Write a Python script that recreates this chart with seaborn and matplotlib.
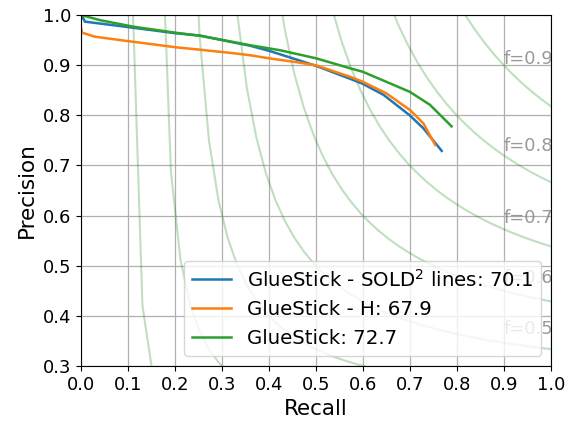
import numpy as np
import pandas as pd
import matplotlib
matplotlib.use("Agg")
import matplotlib.pyplot as plt
import seaborn as sns

# precision / recall points
recall_sold2 = [0.0, 0.0, 0.002, 0.009, 0.094, 0.201, 0.254, 0.36, 0.40, 0.467, 0.50,
                0.573, 0.60, 0.644, 0.70, 0.729, 0.768]
prec_sold2 = [0.945, 0.99, 1.0, 0.987, 0.977, 0.964, 0.959, 0.939, 0.929, 0.909, 0.899,
              0.873, 0.863, 0.841, 0.80, 0.774, 0.729]

recall_h = [0.0, 0.0, 0.003, 0.03, 0.094, 0.201, 0.254, 0.325, 0.36, 0.40, 0.467, 0.50,
            0.573, 0.60, 0.65, 0.70, 0.729, 0.754]
prec_h = [0.94, 0.975, 0.965, 0.957, 0.949, 0.936, 0.931, 0.924, 0.920, 0.914, 0.905, 0.900,
          0.877, 0.867, 0.844, 0.811, 0.784, 0.741]

recall_gs = [0.0, 0.002, 0.041, 0.112, 0.201, 0.254, 0.36, 0.424, 0.50, 0.573, 0.60,
             0.70, 0.743, 0.789]
prec_gs = [0.995, 1.0, 0.99, 0.977, 0.965, 0.959, 0.940, 0.930, 0.914, 0.894, 0.887,
           0.847, 0.821, 0.778]

labels = ["GlueStick - SOLD$^2$ lines: 70.1", "GlueStick - H: 67.9", "GlueStick: 72.7"]
colors = ["tab:blue", "tab:orange", "tab:green"]
f_scores = [0.2, 0.3, 0.4, 0.5, 0.6, 0.7, 0.8, 0.9]

fig, ax = plt.subplots(figsize=(5.81, 4.21), dpi=100)
fig.subplots_adjust(left=0.139, right=0.948, top=0.964, bottom=0.131)

# iso f-score curves
for f in f_scores:
    x = np.linspace(0.01, 1)
    y = f * x / (2 * x - f)
    ax.plot(x[y >= 0], y[y >= 0], color="green", alpha=0.25, lw=1.5)
    ax.annotate("f={0:0.1f}".format(f), xy=(0.9, y[45] + 0.02), fontsize=13,
                color="gray", alpha=0.8, clip_on=True)

curves = [(recall_sold2, prec_sold2), (recall_h, prec_h), (recall_gs, prec_gs)]
for (r, p), lab, c in zip(curves, labels, colors):
    df = pd.DataFrame({"recall": r, "precision": p})
    sns.lineplot(data=df, x="recall", y="precision", sort=False, estimator=None,
                 color=c, lw=1.8, label=lab, ax=ax)

ax.set_xlim(0, 1)
ax.set_ylim(0.3, 1.0)
ax.set_xticks(np.arange(0, 1.01, 0.1))
ax.set_yticks(np.arange(0.3, 1.01, 0.1))
ax.grid(True, color="#b0b0b0", lw=0.9)
ax.tick_params(labelsize=13)
ax.set_xlabel("Recall", fontsize=15.5)
ax.set_ylabel("Precision", fontsize=15.5)
ax.legend(loc="lower right", fontsize=14.2)

plt.savefig("out.png", dpi=100)
